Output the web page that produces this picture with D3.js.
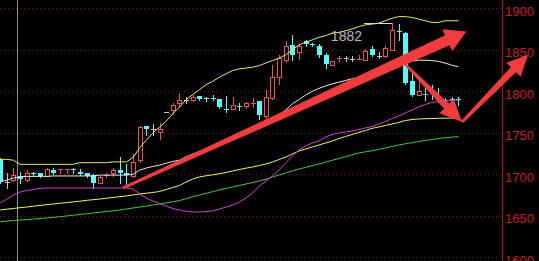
<!DOCTYPE html>
<html>
<head>
<meta charset="utf-8">
<script src="https://cdn.jsdelivr.net/npm/d3@7"></script>
<style>
body { margin: 0; background: #000; }
svg { display: block; background: #000; }
</style>
</head>
<body>
<svg width="539" height="261"></svg>
<script>
// daily candles, oldest first
var opens = [1719, 1691, 1693, 1698, 1693, 1701, 1701, 1698, 1705, 1705.5,
  1705.5, 1706, 1703, 1701, 1699, 1689, 1699, 1702, 1705, 1702,
  1698, 1717, 1758, 1754, 1751, 1775, 1777, 1786, 1790, 1789,
  1794, 1791.5, 1792.5, 1791, 1779, 1779, 1782.5, 1782, 1785, 1788,
  1770, 1792, 1817, 1838, 1856, 1847, 1861, 1856.5, 1854, 1844,
  1832, 1840, 1840, 1839, 1839, 1838, 1851, 1842, 1842, 1850,
  1873, 1870, 1812, 1796, 1796.5, 1797.5, 1793.5, 1789.5, 1790.5, 1790.5]
var highs = [1720, 1701, 1707, 1703, 1705, 1703, 1702, 1708, 1707, 1706,
  1706, 1708, 1706, 1702, 1700, 1698, 1701, 1708, 1721, 1713,
  1725, 1758, 1758, 1761, 1762, 1775, 1786, 1798, 1793, 1795,
  1794, 1793, 1796, 1791, 1794, 1793, 1786, 1787, 1792, 1788,
  1802, 1832, 1844, 1860, 1868, 1857, 1862, 1858, 1857, 1846,
  1837, 1843, 1842, 1842, 1844, 1851, 1854, 1847, 1854, 1882,
  1881, 1871, 1824, 1814, 1804, 1807, 1804, 1792, 1793, 1793]
var lows = [1690, 1683, 1691, 1689, 1691, 1698, 1697, 1697, 1700, 1701,
  1702, 1702, 1699, 1697, 1684, 1688, 1697, 1697, 1690, 1687,
  1695, 1714, 1747, 1747, 1741, 1775, 1771, 1781, 1786, 1787,
  1789, 1788, 1789, 1780, 1775, 1777, 1778, 1779, 1781, 1767,
  1767, 1789, 1808, 1834, 1838, 1838, 1855, 1854, 1841, 1828,
  1831, 1837, 1837, 1836, 1839, 1836, 1842, 1840, 1840, 1849,
  1862, 1809, 1794, 1795, 1789, 1791, 1787, 1787, 1787, 1783]
var closes = [1692, 1691, 1699, 1694, 1702, 1700, 1698, 1706, 1702, 1706,
  1706, 1705.5, 1700, 1698, 1689, 1697, 1699.5, 1705, 1702, 1699,
  1715, 1757, 1754, 1754, 1755, 1775, 1784, 1790, 1790, 1793,
  1791, 1791, 1792, 1781, 1778, 1784, 1782, 1786, 1786, 1771,
  1793, 1817, 1840, 1854, 1844, 1854, 1857, 1856, 1844, 1833,
  1837, 1840.5, 1840, 1839, 1839.5, 1849, 1844, 1842, 1852, 1874,
  1872, 1810, 1796, 1800, 1796, 1797, 1793, 1789, 1790, 1790]

// bollinger bands
var bollUpper = [1718, 1718, 1717, 1712, 1712, 1712, 1712, 1712, 1712, 1712,
  1712, 1712, 1714, 1714, 1714, 1714, 1714, 1715, 1715, 1715,
  1720, 1732, 1741, 1750, 1757, 1764, 1773, 1781, 1790, 1796,
  1802, 1808, 1812, 1817, 1821, 1825, 1827, 1828, 1829, 1831,
  1834, 1837, 1840, 1844, 1850, 1856, 1859, 1862, 1865, 1867,
  1870, 1871, 1873, 1875, 1878, 1880, 1881, 1882, 1885, 1888,
  1890, 1890, 1889, 1887, 1885, 1883, 1883, 1885, 1885, 1885]
var bollMid = [1691, 1693, 1695.5, 1697, 1697.5, 1697.5, 1697.5, 1697.5, 1698, 1698,
  1698, 1698, 1698, 1698, 1698, 1699, 1699, 1699, 1699, 1699,
  1700, 1705, 1707.5, 1709.5, 1711, 1713.5, 1715.5, 1717, 1721, 1724.5,
  1727.5, 1730.5, 1734, 1736.5, 1739.5, 1742.5, 1745, 1748, 1752, 1756.5,
  1760.5, 1765.5, 1771, 1777.5, 1785, 1790, 1795.5, 1800, 1803.5, 1806.5,
  1809, 1811, 1813, 1815, 1816.5, 1818.5, 1821, 1823, 1825.5, 1828.5,
  1831.5, 1834, 1836.5, 1837.5, 1837.5, 1837, 1836, 1834, 1831.5, 1829.5]
var bollLower = [1665.4, 1670, 1675, 1678.7, 1680.5, 1681.7, 1683, 1683.5, 1683.5, 1683.5,
  1683.5, 1683.5, 1683.5, 1683.5, 1683.5, 1683.5, 1683.5, 1683.5, 1683.5, 1683.5,
  1682.3, 1676.3, 1671.4, 1667.8, 1664.8, 1661.8, 1658.8, 1657, 1655.2, 1654.6,
  1654.6, 1655.2, 1655.8, 1658.2, 1660.6, 1663, 1666.6, 1671.4, 1677.5, 1685.9,
  1691.9, 1697.9, 1705.2, 1713.6, 1722.1, 1729.3, 1734.1, 1737.7, 1740.1, 1745,
  1748, 1749.8, 1751, 1752.2, 1754, 1755.8, 1757.6, 1760.6, 1763.6, 1767.2,
  1770.2, 1773.9, 1777.5, 1781.1, 1784.1, 1786.5, 1787.7, 1788.3, 1788.9, 1789.5]

// moving averages
var maSlow = [1657, 1658, 1658.8, 1659.8, 1660.6, 1661.6, 1662.5, 1663.4, 1664.2, 1665.1,
  1665.9, 1666.8, 1667.6, 1668.6, 1669.4, 1670.2, 1671.2, 1672.1, 1673, 1673.9,
  1675.1, 1676.3, 1677.2, 1678.1, 1679.3, 1681.7, 1684.1, 1686.5, 1690.7, 1694.3,
  1696.8, 1698.2, 1699.4, 1700.6, 1702.2, 1704, 1705.8, 1707.4, 1708.8, 1710.6,
  1712.4, 1714.8, 1717.8, 1720.8, 1724.5, 1728.1, 1730.5, 1732.9, 1735.3, 1737.7,
  1740.1, 1743.1, 1745.5, 1748, 1750.4, 1752.8, 1755.4, 1757, 1758.8, 1760.6,
  1762.4, 1764.8, 1766, 1766.6, 1767, 1767.2, 1767.5, 1767.6, 1767.7, 1767.8]
var maLong = [1642.9, 1643.6, 1644.2, 1644.9, 1645.5, 1646.1, 1646.8, 1647.5, 1648.2, 1648.9,
  1649.8, 1650.7, 1651.6, 1652.4, 1653.4, 1654.2, 1655.2, 1656, 1657, 1658.2,
  1659.4, 1660.6, 1661.8, 1663, 1664.2, 1665.7, 1667, 1668.4, 1670.6, 1672.9,
  1675.1, 1677.1, 1679, 1681.1, 1682.9, 1684.7, 1686.5, 1688.3, 1690.1, 1691.9,
  1694, 1696.8, 1699.2, 1701.6, 1704, 1706.4, 1708.4, 1710.5, 1712.4, 1714.6,
  1716.9, 1719, 1721.2, 1723.5, 1725.7, 1727.1, 1728.4, 1729.9, 1731.7, 1733.5,
  1735.3, 1736.8, 1738.1, 1739.5, 1740.7, 1741.9, 1743.1, 1744, 1744.7, 1745.5]

var priceTicks = [1600, 1650, 1700, 1750, 1800, 1850, 1900]
var highMark = { index: 59, label: '1882', price: 1882 }

// hand drawn arrows, [candle index, price]
var arrows = [
  { from: [18.5, 1683.5], to: [70.2, 1872] },
  { from: [60.7, 1835], to: [69.55, 1763] },
  { from: [69.55, 1763], to: [79.5, 1844] }
]

var svg = d3.select('svg')
var width = 539
var height = 261
var axisX = 502

var x = d3.scaleLinear().domain([0, 69]).range([0.2, 458.4])
var y = d3.scaleLinear().domain([1600, 1900]).range([257.3, 8.3])
var cx = function (i) { return Math.round(x(i)) }

// grid
svg.append('g').selectAll('line')
  .data(priceTicks)
  .join('line')
  .attr('x1', 0)
  .attr('x2', axisX)
  .attr('y1', d => Math.round(y(d)) + 0.5)
  .attr('y2', d => Math.round(y(d)) + 0.5)
  .attr('stroke', '#8a1717')
  .attr('stroke-dasharray', '1,3')

svg.append('line')
  .attr('x1', 17.5).attr('x2', 17.5)
  .attr('y1', 0).attr('y2', height)
  .attr('stroke', '#8c8c8c')

// candles
var idx = d3.range(opens.length)
var cg = svg.append('g')
idx.forEach(function (i) {
  var o = opens[i], c = closes[i]
  var px = cx(i) + 0.5
  var top = Math.round(y(Math.max(o, c)))
  var bot = Math.round(y(Math.min(o, c)))
  var col = c > o ? '#ec5252' : (c < o ? '#54fcfc' : '#c8c8c8')
  if (c > o && bot - top >= 2) {
    cg.append('line').attr('x1', px).attr('x2', px)
      .attr('y1', Math.round(y(highs[i]))).attr('y2', top)
      .attr('stroke', col)
    cg.append('line').attr('x1', px).attr('x2', px)
      .attr('y1', bot + 1).attr('y2', Math.round(y(lows[i])))
      .attr('stroke', col)
    cg.append('rect')
      .attr('x', px - 2).attr('y', top + 0.5)
      .attr('width', 4).attr('height', bot - top)
      .attr('fill', '#000').attr('stroke', col)
  } else {
    cg.append('line').attr('x1', px).attr('x2', px)
      .attr('y1', Math.round(y(highs[i]))).attr('y2', Math.round(y(lows[i])) + 1)
      .attr('stroke', col)
    cg.append('rect')
      .attr('x', px - 2.5).attr('y', top)
      .attr('width', 5).attr('height', Math.max(1, bot - top))
      .attr('fill', col)
  }
})

// indicator lines
var line = d3.line().x((d, i) => x(i)).y(d => y(d))
var series = [
  { v: maLong, color: '#3ccc3c' },
  { v: maSlow, color: '#f4f450' },
  { v: bollLower, color: '#d040d0' },
  { v: bollMid, color: '#e8e8e8' },
  { v: bollUpper, color: '#ecec50' }
]
svg.append('g').selectAll('path')
  .data(series)
  .join('path')
  .attr('d', d => line(d.v))
  .attr('fill', 'none')
  .attr('stroke', d => d.color)
  .attr('stroke-width', 1)

// highest price mark
var hx = cx(highMark.index)
var hy = Math.round(y(highMark.price)) + 0.5
svg.append('line')
  .attr('x1', hx - 28).attr('x2', hx)
  .attr('y1', hy).attr('y2', hy)
  .attr('stroke', '#d8d8d8')
svg.append('text')
  .attr('x', hx - 30)
  .attr('y', hy + 17)
  .attr('text-anchor', 'end')
  .attr('fill', '#b8b8b8')
  .attr('font-family', 'Liberation Sans, Arial, sans-serif')
  .attr('font-size', 14)
  .text(highMark.label)

// price axis
var axis = svg.append('g')
  .attr('transform', 'translate(' + axisX + ',0)')
  .call(d3.axisRight(y).tickValues(priceTicks).tickSize(0).tickPadding(3).tickFormat(d3.format('d')))
axis.select('.domain').remove()
axis.selectAll('text')
  .attr('y', 3)
  .attr('fill', '#c81e1e')
  .attr('font-family', 'Liberation Sans, Arial, sans-serif')
  .attr('font-size', 13)
axis.append('line')
  .attr('x1', 0.5).attr('x2', 0.5)
  .attr('y1', 0).attr('y2', height)
  .attr('stroke', '#a81616')

// arrows
var shape = [
  { w0: 3, w1: 11, len: 21, half: 12 },
  { w0: 2, w1: 7, len: 22, half: 10 },
  { w0: 3, w1: 7, len: 21, half: 10 }
]
function arrowPath (a, s) {
  var x0 = x(a.from[0]), y0 = y(a.from[1])
  var x1 = x(a.to[0]), y1 = y(a.to[1])
  var L = Math.hypot(x1 - x0, y1 - y0)
  var ux = (x1 - x0) / L, uy = (y1 - y0) / L
  var nx = -uy, ny = ux
  var bx = x1 - ux * s.len, by = y1 - uy * s.len
  var pts = [
    [x0 + nx * s.w0 / 2, y0 + ny * s.w0 / 2],
    [bx + nx * s.w1 / 2, by + ny * s.w1 / 2],
    [bx + nx * s.half, by + ny * s.half],
    [x1, y1],
    [bx - nx * s.half, by - ny * s.half],
    [bx - nx * s.w1 / 2, by - ny * s.w1 / 2],
    [x0 - nx * s.w0 / 2, y0 - ny * s.w0 / 2]
  ]
  return 'M' + pts.map(p => p.join(',')).join('L') + 'Z'
}
svg.append('g').selectAll('path')
  .data(arrows)
  .join('path')
  .attr('d', (d, i) => arrowPath(d, shape[i]))
  .attr('fill', '#f03c3c')
</script>
</body>
</html>
